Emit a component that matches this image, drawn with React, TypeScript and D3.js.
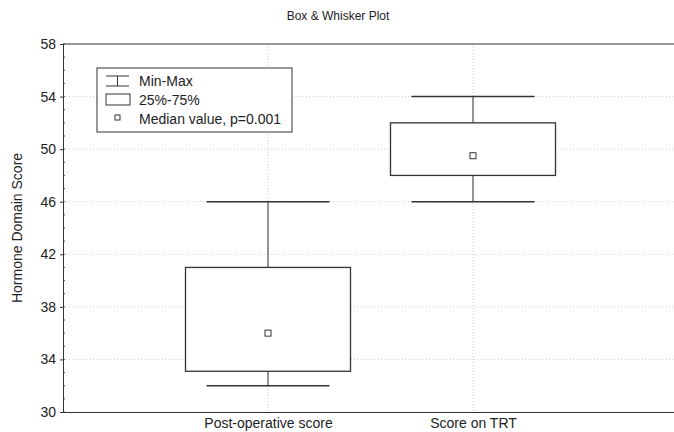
import React, { useEffect, useRef } from "react";
import * as d3 from "d3";

const categories = ["Post-operative score", "Score on TRT"];
const minValues = [32, 46];
const q1Values = [33.1, 48];
const medianValues = [36, 49.5];
const q3Values = [41, 52];
const maxValues = [46, 54];
const yTicks = [30, 34, 38, 42, 46, 50, 54, 58];
const legendLabels = ["Min-Max", "25%-75%", "Median value, p=0.001"];

const W = 674;
const H = 432;
const margin = { top: 44, right: -4, bottom: 20, left: 63 };
const ink = "#333";
const font = "'Liberation Sans', Arial, sans-serif";

export default function App() {
  const ref = useRef<SVGSVGElement>(null);

  useEffect(() => {
    const svg = d3.select(ref.current);
    svg.selectAll("*").remove();

    const width = W - margin.left - margin.right;
    const height = H - margin.top - margin.bottom;

    const x = d3.scalePoint<string>()
      .domain(["", ...categories, " "])
      .range([0, width]);
    const y = d3.scaleLinear().domain([30, 58]).range([height, 0]);

    const g = svg.append("g")
      .attr("transform", `translate(${margin.left},${margin.top})`);

    // grid
    g.selectAll(".hgrid")
      .data(yTicks.slice(1, -1))
      .enter().append("line")
      .attr("x1", 0).attr("x2", width)
      .attr("y1", d => y(d)).attr("y2", d => y(d))
      .attr("stroke", "#cccccc")
      .attr("stroke-dasharray", "1,2");
    g.selectAll(".vgrid")
      .data(categories)
      .enter().append("line")
      .attr("x1", d => x(d)!).attr("x2", d => x(d)!)
      .attr("y1", 0).attr("y2", height)
      .attr("stroke", "#cccccc")
      .attr("stroke-dasharray", "1,2");

    // minor ticks
    g.selectAll(".minor")
      .data(d3.range(30, 59))
      .enter().append("line")
      .attr("x1", 0).attr("x2", 2)
      .attr("y1", d => y(d)).attr("y2", d => y(d))
      .attr("stroke", ink).attr("stroke-width", 0.8);

    // axes
    const yAxis = g.append("g")
      .call(d3.axisLeft(y).tickValues(yTicks).tickSize(3).tickPadding(4));
    yAxis.select(".domain").attr("stroke", ink);
    yAxis.selectAll(".tick line").attr("stroke", ink);
    yAxis.selectAll("text")
      .attr("font-family", font).attr("font-size", 14).attr("fill", "#222");

    const xAxis = g.append("g")
      .attr("transform", `translate(0,${height})`)
      .call(d3.axisBottom(x).tickValues(categories).tickSize(0).tickPadding(6));
    xAxis.select(".domain").attr("stroke", ink);
    xAxis.selectAll("text")
      .attr("font-family", font).attr("font-size", 14).attr("fill", "#222");

    g.append("line")
      .attr("x1", 0).attr("x2", width).attr("y1", 0).attr("y2", 0)
      .attr("stroke", ink);

    // boxes
    const boxW = 165;
    const capW = 123;
    const data = categories.map((c, i) => ({
      c, min: minValues[i], q1: q1Values[i], med: medianValues[i], q3: q3Values[i], max: maxValues[i],
    }));
    const box = g.selectAll(".box").data(data).enter().append("g");
    box.append("line")
      .attr("x1", d => x(d.c)!).attr("x2", d => x(d.c)!)
      .attr("y1", d => y(d.max)).attr("y2", d => y(d.q3))
      .attr("stroke", ink);
    box.append("line")
      .attr("x1", d => x(d.c)!).attr("x2", d => x(d.c)!)
      .attr("y1", d => y(d.q1)).attr("y2", d => y(d.min))
      .attr("stroke", ink);
    box.append("line")
      .attr("x1", d => x(d.c)! - capW / 2).attr("x2", d => x(d.c)! + capW / 2)
      .attr("y1", d => y(d.max)).attr("y2", d => y(d.max))
      .attr("stroke", ink).attr("stroke-width", 1.4);
    box.append("line")
      .attr("x1", d => x(d.c)! - capW / 2).attr("x2", d => x(d.c)! + capW / 2)
      .attr("y1", d => y(d.min)).attr("y2", d => y(d.min))
      .attr("stroke", ink).attr("stroke-width", 1.4);
    box.append("rect")
      .attr("x", d => x(d.c)! - boxW / 2)
      .attr("width", boxW)
      .attr("y", d => y(d.q3))
      .attr("height", d => y(d.q1) - y(d.q3))
      .attr("fill", "white").attr("stroke", ink).attr("stroke-width", 1.3);
    box.append("rect")
      .attr("x", d => x(d.c)! - 3)
      .attr("y", d => y(d.med) - 3)
      .attr("width", 6).attr("height", 6)
      .attr("fill", "white").attr("stroke", ink);

    // legend
    const lg = svg.append("g").attr("transform", "translate(97,68)");
    lg.append("rect")
      .attr("width", 195).attr("height", 64)
      .attr("fill", "white").attr("stroke", ink);
    lg.append("path")
      .attr("d", "M9,8H32M20.5,8V18M9,18H32")
      .attr("stroke", ink).attr("fill", "none");
    lg.append("rect")
      .attr("x", 9).attr("y", 26).attr("width", 24).attr("height", 11)
      .attr("fill", "white").attr("stroke", ink);
    lg.append("rect")
      .attr("x", 18).attr("y", 47).attr("width", 5).attr("height", 5)
      .attr("fill", "white").attr("stroke", ink);
    lg.selectAll(".ltext")
      .data(legendLabels)
      .enter().append("text")
      .attr("x", 42)
      .attr("y", (d, i) => 13 + i * 19)
      .attr("dy", "0.35em")
      .attr("font-family", font).attr("font-size", 14).attr("fill", "#222")
      .text(d => d);

    // title and y label
    svg.append("text")
      .attr("x", 338).attr("y", 20)
      .attr("text-anchor", "middle")
      .attr("font-family", font).attr("font-size", 12).attr("fill", "#222")
      .text("Box & Whisker Plot");
    svg.append("text")
      .attr("transform", `translate(22,${margin.top + height / 2}) rotate(-90)`)
      .attr("text-anchor", "middle")
      .attr("font-family", font).attr("font-size", 14).attr("fill", "#222")
      .text("Hormone Domain Score");
  }, []);

  return (
    <svg ref={ref} width={W} height={H}
      style={{ position: "absolute", left: 0, top: 0, background: "white" }} />
  );
}
